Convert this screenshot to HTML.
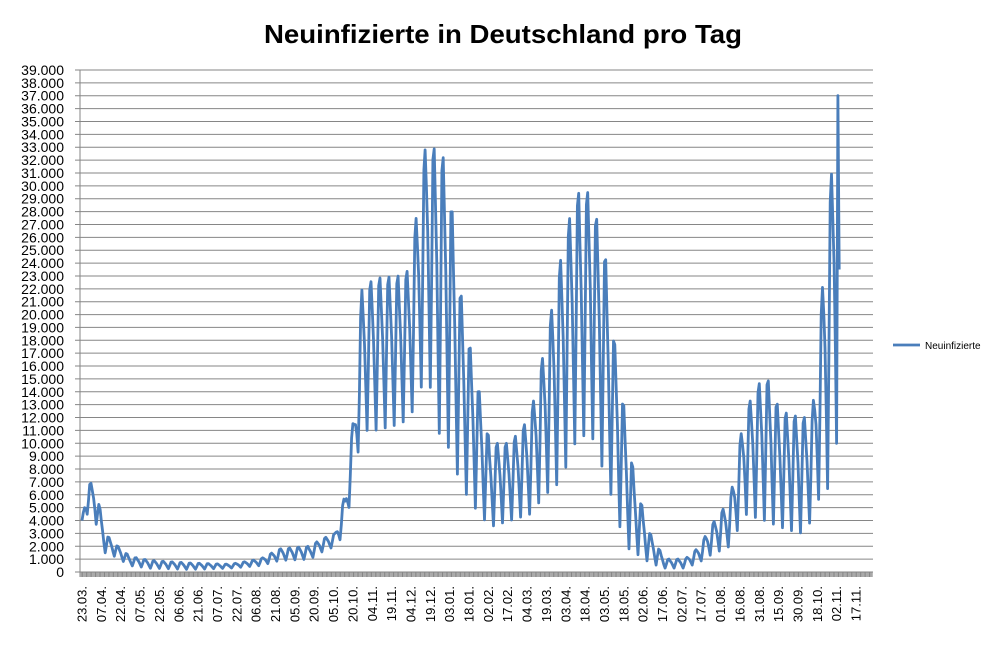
<!DOCTYPE html>
<html><head><meta charset="utf-8"><style>
html,body{margin:0;padding:0;background:#fff;}
svg{display:block;font-family:"Liberation Sans",sans-serif;}
</style></head><body>
<svg id="c" width="1004" height="645" xmlns="http://www.w3.org/2000/svg">
<text x="503" y="43" text-anchor="middle" font-size="26" font-weight="bold" textLength="478" lengthAdjust="spacingAndGlyphs">Neuinfizierte in Deutschland pro Tag</text>
<g id="grid"></g>
<g id="ticks"></g>
<path id="series" fill="none" stroke="#4a7ebb" stroke-width="2.8" stroke-linejoin="round"/>
<line x1="893" y1="345" x2="920" y2="345" stroke="#4a7ebb" stroke-width="2.8"/>
<text x="925" y="349" font-size="10">Neuinfizierte</text>
</svg>
<script>
const NS="http://www.w3.org/2000/svg";
const X0=80,X1=873,Y0=572,YT=70,per=(Y0-YT)/39;
const g=document.getElementById('grid'),tk=document.getElementById('ticks');
function el(t,a,p,txt){const e=document.createElementNS(NS,t);for(const k in a)e.setAttribute(k,a[k]);if(txt!=null)e.textContent=txt;p.appendChild(e);return e;}
for(let i=0;i<=39;i++){const y=Y0-i*per;
 el('line',{x1:X0-5,x2:X1,y1:y,y2:y,stroke:'#868686','stroke-width':1},g);
 el('text',{x:64,y:y+5,'text-anchor':'end','font-size':14},g,i==0?'0':i+'.000');}
el('line',{x1:X0,x2:X0,y1:YT,y2:Y0,stroke:'#868686','stroke-width':1},g);
const dx=1.29,xs=82;
for(let x=X0;x<=X1;x+=dx){el('line',{x1:x,x2:x,y1:Y0,y2:Y0+5,stroke:'#868686','stroke-width':1},tk);}
const labs="23.03,07.04,22.04,07.05,22.05,06.06,21.06,07.07,22.07,06.08,21.08,05.09,20.09,05.10,20.10,04.11,19.11,04.12,19.12,03.01,18.01,02.02,17.02,04.03,19.03,03.04,18.04,03.05,18.05,02.06,17.06,02.07,17.07,01.08,16.08,31.08,15.09,30.09,18.10,02.11,17.11".split(',');
labs.forEach((s,k)=>{const x=xs+k*15*dx;
 el('text',{x:0,y:0,'font-size':13,'text-anchor':'end',transform:`translate(${x+4.5},586) rotate(-90)`},tk,s+'.');});
const env=[[82,4,3.8],[87,7,4.5],[95,6.8,4],[105,3,1.5],[115,2.2,1.2],[130,1.2,0.5],[150,0.9,0.3],[190,0.7,0.2],[230,0.6,0.3],[260,1.0,0.5],[280,1.8,0.9],[310,2,1],[320,2.5,1.5],[335,3,2],[345,6,3],[355,13,8],[362,22,11],[375,22.8,11],[400,23,11.5],[410,23.5,12],[420,30,14],[427,33.8,16],[437,32.5,11],[447,32,10],[460,22,7],[470,17.5,5.5],[490,10,3.5],[510,10,4],[530,12,4.5],[545,17.5,6],[560,24,7],[575,29.4,10],[590,29.5,11],[605,24.8,7.5],[615,17.5,5],[625,12.3,2],[635,7,1.5],[650,3,0.7],[665,1,0.3],[685,1,0.3],[700,2,0.8],[710,3.5,1.3],[730,5.6,2],[745,12.5,4.5],[765,15.5,4],[780,12.5,3.5],[800,12,3],[812,12,4],[820,19.5,6],[828,28,6.5],[834,33,10],[838,37,10]];
function interp(x){for(let i=0;i<env.length-1;i++){const a=env[i],b=env[i+1];if(x>=a[0]&&x<=b[0]){const t=(x-a[0])/(b[0]-a[0]);return[a[1]+t*(b[1]-a[1]),a[2]+t*(b[2]-a[2])];}}const l=env[env.length-1];return[l[1],l[2]];}
const w=[0.0,0.45,0.95,1.0,0.8,0.6,0.3];
let pts=[];const N=587;
for(let d=0;d<=N;d++){const x=xs+d*dx;const[h,l]=interp(x);let v=l+(h-l)*w[(d+3)%7];
 if(d==N)v=23.5; if(d==N-1)v=37;
 pts.push([x,Y0-v*per]);}
document.getElementById('series').setAttribute('d','M'+pts.map(p=>p[0].toFixed(1)+','+p[1].toFixed(1)).join('L'));
</script>
</body></html>
